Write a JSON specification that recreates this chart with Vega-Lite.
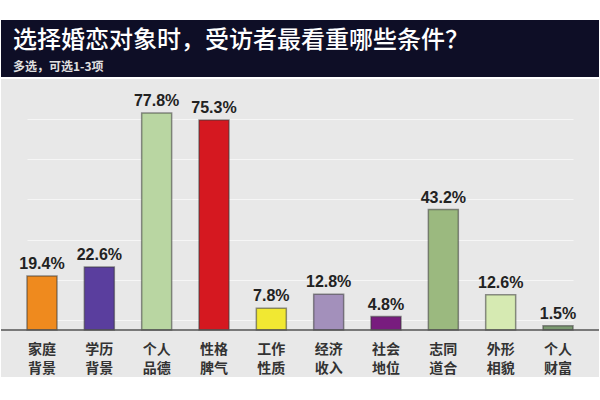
{
  "$schema": "https://vega.github.io/schema/vega-lite/v6.json",
  "description": "选择婚恋对象时，受访者最看重哪些条件？",
  "background": "white",
  "padding": {"top": 20, "left": 0, "right": 0, "bottom": 23},
  "spacing": 2,
  "config": {"view": {"stroke": null}},
  "vconcat": [
    {
      "width": 598,
      "height": 57,
      "view": {"fill": "#0e0e26", "stroke": null},
      "title": {
        "text": "选择婚恋对象时，受访者最看重哪些条件？",
        "subtitle": "多选，可选1-3项",
        "anchor": "start",
        "frame": "group",
        "offset": -53,
        "dx": 12,
        "font": "Noto Sans CJK SC",
        "fontSize": 24,
        "fontWeight": 500,
        "color": "#ffffff",
        "subtitleFont": "Noto Sans CJK SC",
        "subtitleFontSize": 12,
        "subtitleFontWeight": "bold",
        "subtitleColor": "#e0e0e0",
        "subtitlePadding": 9
      },
      "data": {"values": [{}]},
      "mark": {"type": "text"},
      "encoding": {"text": {"value": ""}}
    },
    {
      "width": 598,
      "height": 298,
      "view": {"fill": "#e8e8e8", "stroke": null},
      "data": {
        "values": [
          {"条件": "家庭\n背景", "比例": 0.194},
          {"条件": "学历\n背景", "比例": 0.226},
          {"条件": "个人\n品德", "比例": 0.778},
          {"条件": "性格\n脾气", "比例": 0.753},
          {"条件": "工作\n性质", "比例": 0.078},
          {"条件": "经济\n收入", "比例": 0.128},
          {"条件": "社会\n地位", "比例": 0.048},
          {"条件": "志同\n道合", "比例": 0.432},
          {"条件": "外形\n相貌", "比例": 0.126},
          {"条件": "个人\n财富", "比例": 0.015}
        ]
      },
      "layer": [
        {
          "mark": {"type": "bar", "stroke": "#3a3a3a", "strokeWidth": 1.5, "strokeOpacity": 0.55},
          "encoding": {
            "x": {
              "field": "条件",
              "type": "nominal",
              "sort": null,
              "scale": {"range": [26, 572], "paddingInner": 0.477, "paddingOuter": 0},
              "axis": null
            },
            "y": {
              "field": "比例",
              "type": "quantitative",
              "scale": {"domain": [-0.1685, 0.9], "nice": false, "zero": false},
              "axis": {
                "values": [0.036, 0.072, 0.108, 0.144, 0.18, 0.216, 0.252, 0.288, 0.324, 0.36, 0.396, 0.432, 0.468, 0.504, 0.54, 0.576, 0.612, 0.648, 0.684, 0.72, 0.756, 0.792, 0.828, 0.864],
                "grid": true,
                "gridColor": "#ffffff",
                "gridOpacity": 0.6,
                "domain": false,
                "ticks": false,
                "labels": false,
                "title": null
              }
            },
            "y2": {"datum": 0},
            "color": {
              "field": "条件",
              "type": "nominal",
              "scale": {
                "domain": ["家庭\n背景", "学历\n背景", "个人\n品德", "性格\n脾气", "工作\n性质", "经济\n收入", "社会\n地位", "志同\n道合", "外形\n相貌", "个人\n财富"],
                "range": ["#ef8a1e", "#5a3e9e", "#b9d6a2", "#d51820", "#f1e832", "#a390bb", "#781c7e", "#9bb97f", "#d6eab2", "#7c9a72"]
              },
              "legend": null
            }
          }
        },
        {
          "data": {"values": [{}]},
          "mark": {"type": "rule", "color": "#555555", "strokeWidth": 1.5},
          "encoding": {"y": {"datum": 0}}
        },
        {
          "mark": {
            "type": "text",
            "baseline": "bottom",
            "dy": -4,
            "font": "Liberation Sans",
            "fontSize": 16,
            "fontWeight": "bold",
            "color": "#222222"
          },
          "encoding": {
            "x": {"field": "条件", "type": "nominal", "sort": null},
            "y": {"field": "比例", "type": "quantitative"},
            "text": {"field": "比例", "type": "quantitative", "format": ".1%"}
          }
        },
        {
          "mark": {
            "type": "text",
            "baseline": "middle",
            "lineBreak": "\n",
            "lineHeight": 19,
            "font": "Noto Sans CJK SC",
            "fontSize": 14,
            "fontWeight": "bold",
            "color": "#333333"
          },
          "encoding": {
            "x": {"field": "条件", "type": "nominal", "sort": null},
            "y": {"datum": -0.073},
            "text": {"field": "条件", "type": "nominal"}
          }
        }
      ]
    }
  ]
}
